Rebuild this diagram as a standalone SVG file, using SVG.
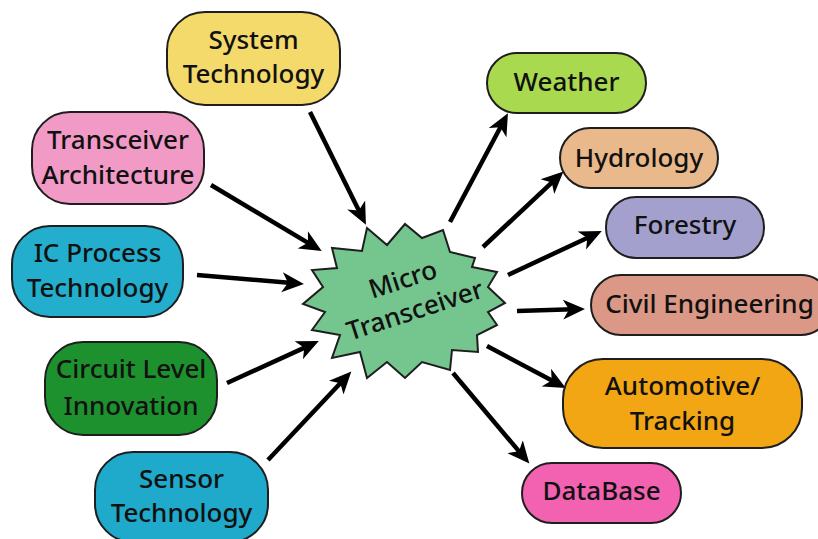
<svg xmlns="http://www.w3.org/2000/svg" width="818" height="539" viewBox="0 0 818 539">
  <style>
    .box { stroke: #1e1e1e; stroke-width: 2; }
    .lbl { font-family: "Noto Sans", "Open Sans", sans-serif; font-size: 26px; font-weight: 500; fill: #111; text-anchor: middle; }
    .conn { stroke: #000; stroke-width: 4.5; fill: none; marker-end: url(#head); }
  </style>
  <defs>
    <marker id="head" viewBox="0 -11 23 22" markerWidth="23" markerHeight="22" refX="10" refY="0" orient="auto" markerUnits="userSpaceOnUse">
      <path d="M0,-10 L22,0 L0,10 L6,0 Z" fill="#000"/>
    </marker>
  </defs>
  <rect width="818" height="539" fill="#fff"/>

  <!-- connectors -->
  <g id="connectors">
    <line class="conn" x1="310" y1="112" x2="360.6" y2="214"/>
    <line class="conn" x1="211" y1="185" x2="311.4" y2="244.9"/>
    <line class="conn" x1="197" y1="275" x2="292" y2="283.1"/>
    <line class="conn" x1="227" y1="383" x2="307.9" y2="346.1"/>
    <line class="conn" x1="268" y1="460" x2="343.1" y2="380.3"/>
    <line class="conn" x1="450" y1="222" x2="502.3" y2="123.8"/>
    <line class="conn" x1="483" y1="247" x2="554.7" y2="179.8"/>
    <line class="conn" x1="508" y1="275" x2="590.9" y2="236.2"/>
    <line class="conn" x1="517" y1="311" x2="573" y2="309.3"/>
    <line class="conn" x1="487" y1="346" x2="555.2" y2="382.3"/>
    <line class="conn" x1="453" y1="373" x2="521.6" y2="454.4"/>
  </g>

  <!-- central starburst -->
  <g id="micro-transceiver">
    <polygon class="box" fill="#74C58E" points="367,228 387,245 405,224 422,238 443,230 450,252 475,258 472,267 497,272 488,287 505,303 488,312 497,325 477,335 478,352 452,350 450,370 422,362 405,378 387,362 367,378 360,352 332,358 340,335 312,330 325,312 303,304 323,287 312,270 337,268 332,248 362,251"/>
    <g transform="rotate(-18 410 295)">
      <text class="lbl" x="408" y="287">Micro</text>
      <text class="lbl" x="410" y="320">Transceiver</text>
    </g>
  </g>

  <!-- inputs -->
  <g id="system-technology">
    <rect class="box" x="167" y="12" width="173" height="93" rx="38" fill="#F4D96B"/>
    <text class="lbl" x="253.5" y="49">System</text>
    <text class="lbl" x="253.5" y="83">Technology</text>
  </g>
  <g id="transceiver-architecture">
    <rect class="box" x="32" y="112" width="172" height="92" rx="38" fill="#F29AC6"/>
    <text class="lbl" x="118" y="149">Transceiver</text>
    <text class="lbl" x="118" y="184">Architecture</text>
  </g>
  <g id="ic-process-technology">
    <rect class="box" x="12" y="226" width="171" height="91" rx="38" fill="#23AECE"/>
    <text class="lbl" x="97.5" y="262">IC Process</text>
    <text class="lbl" x="97.5" y="297">Technology</text>
  </g>
  <g id="circuit-level-innovation">
    <rect class="box" x="45" y="342" width="172" height="93" rx="38" fill="#1D912D"/>
    <text class="lbl" x="131" y="378">Circuit Level</text>
    <text class="lbl" x="131" y="415">Innovation</text>
  </g>
  <g id="sensor-technology">
    <rect class="box" x="95" y="452" width="173" height="90" rx="38" fill="#1FA9CB"/>
    <text class="lbl" x="181.5" y="488">Sensor</text>
    <text class="lbl" x="181.5" y="522">Technology</text>
  </g>

  <!-- applications -->
  <g id="weather">
    <rect class="box" x="487" y="53" width="159" height="60" rx="30" fill="#A9D94E"/>
    <text class="lbl" x="566.5" y="91">Weather</text>
  </g>
  <g id="hydrology">
    <rect class="box" x="560" y="128" width="158" height="60" rx="30" fill="#E9B98B"/>
    <text class="lbl" x="639" y="167">Hydrology</text>
  </g>
  <g id="forestry">
    <rect class="box" x="606" y="197" width="158" height="61" rx="30" fill="#A3A0CE"/>
    <text class="lbl" x="685" y="234">Forestry</text>
  </g>
  <g id="civil-engineering">
    <rect class="box" x="591" y="275" width="240" height="60" rx="30" fill="#DB9886"/>
    <text class="lbl" x="709.5" y="313">Civil Engineering</text>
  </g>
  <g id="automotive-tracking">
    <rect class="box" x="563" y="359" width="239" height="89" rx="40" fill="#F3A613"/>
    <text class="lbl" x="682.5" y="395">Automotive/</text>
    <text class="lbl" x="682.5" y="430">Tracking</text>
  </g>
  <g id="database">
    <rect class="box" x="522" y="463" width="159" height="60" rx="30" fill="#F262B1"/>
    <text class="lbl" x="601.5" y="500">DataBase</text>
  </g>
</svg>
